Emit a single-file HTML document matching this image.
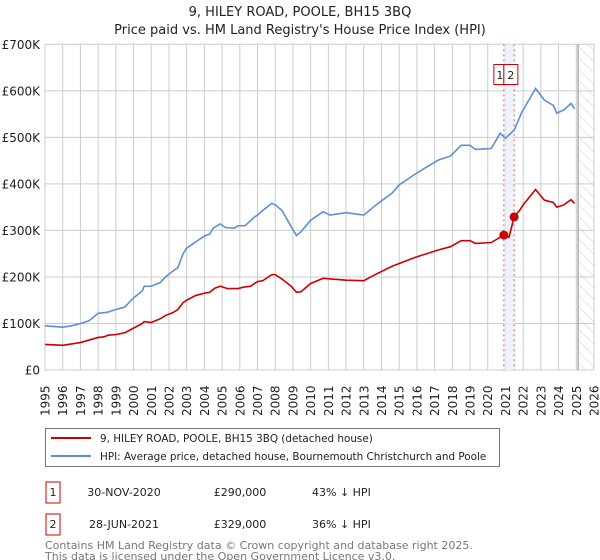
<!DOCTYPE html>
<html><head><meta charset="utf-8"><style>
body{margin:0;background:#fff;width:600px;height:560px;overflow:hidden;font-family:"Liberation Sans","DejaVu Sans",sans-serif;}
svg{display:block}
</style></head><body>
<svg id="chart" width="600" height="560" xmlns="http://www.w3.org/2000/svg" font-family="DejaVu Sans, Liberation Sans, sans-serif">
<defs>
<pattern id="hatch" patternUnits="userSpaceOnUse" width="8" height="8" patternTransform="rotate(-45)">
<line x1="0" y1="0" x2="0" y2="8" stroke="#ccc" stroke-width="1"/>
</pattern>
</defs>
<text x="300" y="16" text-anchor="middle" font-size="13" fill="#222">9, HILEY ROAD, POOLE, BH15 3BQ</text>
<text x="300" y="34" text-anchor="middle" font-size="13" fill="#222">Price paid vs. HM Land Registry's House Price Index (HPI)</text>
<g id="grid"></g>
<g id="marks"></g>
<g id="axes"></g>
<rect x="45.5" y="428.5" width="454" height="38" fill="#fff" stroke="#777"/>
<line x1="51" y1="438" x2="91" y2="438" stroke="#cc0000" stroke-width="2"/>
<text x="100" y="442" font-size="10.4" fill="#222">9, HILEY ROAD, POOLE, BH15 3BQ (detached house)</text>
<line x1="51" y1="456" x2="91" y2="456" stroke="#5b8fd6" stroke-width="2"/>
<text x="100" y="460" font-size="10.4" fill="#222">HPI: Average price, detached house, Bournemouth Christchurch and Poole</text>
<g>
<rect x="46" y="482" width="14" height="21" fill="#fff" stroke="#cc0000"/>
<text x="53" y="496" text-anchor="middle" font-size="11" fill="#222">1</text>
<text x="124" y="496" text-anchor="middle" font-size="11" fill="#222">30-NOV-2020</text>
<text x="240" y="496" text-anchor="middle" font-size="11" fill="#222">£290,000</text>
<text x="312" y="496" font-size="11" fill="#222">43% ↓ HPI</text>
</g>
<g>
<rect x="46" y="514" width="14" height="21" fill="#fff" stroke="#cc0000"/>
<text x="53" y="528" text-anchor="middle" font-size="11" fill="#222">2</text>
<text x="124" y="528" text-anchor="middle" font-size="11" fill="#222">28-JUN-2021</text>
<text x="240" y="528" text-anchor="middle" font-size="11" fill="#222">£329,000</text>
<text x="312" y="528" font-size="11" fill="#222">36% ↓ HPI</text>
</g>
<text x="45" y="549" font-size="11" fill="#777">Contains HM Land Registry data © Crown copyright and database right 2025.</text>
<text x="45" y="560" font-size="11" fill="#777">This data is licensed under the Open Government Licence v3.0.</text>
</svg>
<script>
const hpiYears=[1995,1996,1996.5,1997,1997.5,1998,1998.5,1999,1999.5,2000,2000.5,2000.6,2001,2001.5,2001.8,2002.2,2002.5,2002.8,2003,2003.5,2004,2004.3,2004.5,2004.9,2005.2,2005.7,2005.9,2006.3,2006.8,2007,2007.3,2007.8,2008,2008.4,2008.9,2009.2,2009.45,2010,2010.7,2011.1,2012,2013,2013.8,2014.6,2015,2015.9,2016.5,2017.2,2017.9,2018.5,2019,2019.3,2020.2,2020.7,2021,2021.5,2021.9,2022.7,2023.2,2023.7,2023.9,2024.3,2024.7,2024.9];
const hpiValues=[95,92,95,100,106,122,124,130,135,155,170,180,180,188,200,212,220,250,262,275,288,292,305,314,306,305,310,310,328,333,343,358,355,342,308,289,297,322,340,333,338,333,358,380,398,421,435,451,460,483,483,474,476,509,498,516,552,605,580,569,552,559,573,561];
const propYears=[1995,1996,1996.5,1997,1998,1998.3,1998.6,1999,1999.5,2000,2000.5,2000.6,2001,2001.5,2001.8,2002.2,2002.5,2002.8,2003,2003.5,2004,2004.3,2004.6,2004.9,2005.3,2005.9,2006.2,2006.6,2007,2007.3,2007.8,2008,2008.4,2008.9,2009.2,2009.45,2010,2010.7,2012,2013,2013.8,2014.6,2015.9,2017.2,2017.9,2018.5,2019,2019.3,2020.2,2020.91,2021.2,2021.49,2021.8,2022,2022.7,2023.2,2023.7,2023.9,2024.3,2024.7,2024.9];
const propValues=[55,53,56,59,70,71,75,76,80,90,100,104,102,110,117,123,130,145,150,160,165,167,176,180,175,175,178,180,190,192,205,205,195,180,167,168,186,197,193,192,208,223,242,258,265,278,278,272,274,290,285,329,343,355,388,365,360,350,355,366,358];
const saleYears=[2020.91,2021.49];
const saleValues=[290,329];
const saleLabels=["1","2"];
const yTicks=[0,100,200,300,400,500,600,700];
const yTickLabels=["£0","£100K","£200K","£300K","£400K","£500K","£600K","£700K"];
const xTicks=[1995,1996,1997,1998,1999,2000,2001,2002,2003,2004,2005,2006,2007,2008,2009,2010,2011,2012,2013,2014,2015,2016,2017,2018,2019,2020,2021,2022,2023,2024,2025,2026];
const dataEnd=2025.1;

const NS="http://www.w3.org/2000/svg";
const X0=45,X1=594,Y0=370,Y1=44.3;
const xs=y=>X0+(y-1995)/(2026-1995)*(X1-X0);
const ys=v=>Y0-v/700*(Y0-Y1);
function mk(tag,attrs,parent){const e=document.createElementNS(NS,tag);for(const k in attrs)e.setAttribute(k,attrs[k]);parent.appendChild(e);return e;}
const grid=document.getElementById('grid'),marks=document.getElementById('marks'),axes=document.getElementById('axes');

yTicks.forEach((t,i)=>{
  const l=mk('line',{x1:X0,x2:X1,y1:ys(t),y2:ys(t),stroke:'#ccc'},grid);
  
  
  const tx=mk('text',{x:40,y:ys(t)+4.5,'text-anchor':'end','font-size':12,fill:'#222'},axes);
  tx.textContent=yTickLabels[i];
  
  
});
xTicks.forEach(t=>{
  const l=mk('line',{x1:xs(t),x2:xs(t),y1:Y1,y2:Y0,stroke:'#ccc'},grid);
  
  
  const tx=mk('text',{x:0,y:0,'font-size':12,fill:'#222',transform:`translate(${xs(t)+4.5},416) rotate(-90)`},axes);
  tx.textContent=String(t);
  
  
});
const hatch=mk('rect',{x:xs(dataEnd),y:Y1,width:X1-xs(dataEnd),height:Y0-Y1,fill:'url(#hatch)'},grid);


const endLine=mk('line',{x1:xs(dataEnd),x2:xs(dataEnd),y1:Y1,y2:Y0,stroke:'#888'},grid);


const band=mk('rect',{x:xs(saleYears[0]),y:Y1,width:xs(saleYears[1])-xs(saleYears[0]),height:Y0-Y1,fill:'#e8effa',opacity:0.8},grid);


saleYears.forEach((s,i)=>{
  const l=mk('line',{x1:xs(s),x2:xs(s),y1:Y1,y2:Y0,stroke:'#e06060','stroke-dasharray':'2,3'},grid);
  
  
});
const hp=mk('polyline',{points:hpiYears.map((y,i)=>xs(y)+','+ys(hpiValues[i])).join(' '),fill:'none',stroke:'#5b8fd6','stroke-width':1.6},marks);


const pp=mk('polyline',{points:propYears.map((y,i)=>xs(y)+','+ys(propValues[i])).join(' '),fill:'none',stroke:'#cc0000','stroke-width':1.6},marks);


const mid=xs(saleYears[0]);
saleYears.forEach((s,i)=>{
  const c=mk('circle',{cx:xs(s),cy:ys(saleValues[i]),r:4.5,fill:'#cc0000'},marks);
  
  
  const g=mk('g',{},marks);
  
  
  const bx=i==0?mid-10:mid, bw=i==0?10:14;
  mk('rect',{x:bx,y:64.5,width:bw,height:20,fill:'#fff',stroke:'#cc0000'},g);
  const t=mk('text',{x:bx+bw/2+(i==0?1:0),y:79,'text-anchor':'middle','font-size':11,fill:'#222'},g);
  t.textContent=saleLabels[i];
});
</script>
</body></html>
